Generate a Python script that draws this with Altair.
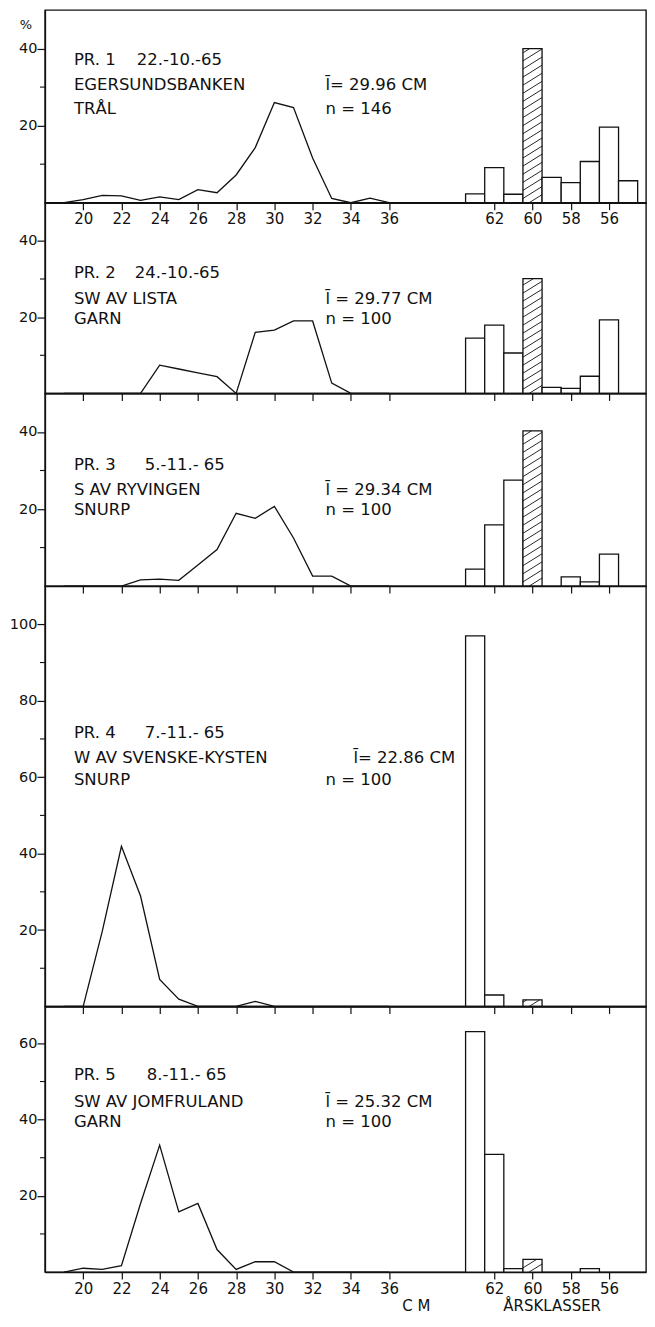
import altair as alt
import pandas as pd

# ---------------- data ----------------
CM = [19, 20, 21, 22, 23, 24, 25, 26, 27, 28, 29, 30, 31, 32, 33, 34, 35, 36]

PCT_1 = [0, 0.8, 1.9, 1.8, 0.6, 1.5, 0.8, 3.4, 2.6, 7.2, 14.3, 26.0, 24.7, 11.6, 1.1, 0, 1.2, 0]
PCT_2 = [0, 0, 0, 0, 0, 7.4, 6.4, 5.4, 4.4, 0, 16.0, 16.6, 19.0, 19.0, 2.7, 0, 0, 0]
PCT_3 = [0, 0, 0, 0, 1.6, 1.8, 1.5, 5.5, 9.5, 18.9, 17.6, 20.7, 12.5, 2.6, 2.6, 0, 0, 0]
PCT_4 = [0, 0, 19.7, 41.9, 28.9, 7.1, 1.9, 0, 0, 0, 1.3, 0, 0, 0, 0, 0, 0, 0]
PCT_5 = [0, 1.0, 0.7, 1.7, 18.0, 33.3, 15.8, 18.0, 5.9, 0.7, 2.7, 2.7, 0, 0, 0, 0, 0, 0]

YEARS = [63, 62, 61, 60, 59, 58, 57, 56, 55]
YC_1 = [2.3, 9.1, 2.2, 40.0, 6.6, 5.2, 10.7, 19.6, 5.7]
YC_2 = [14.5, 17.9, 10.6, 30.1, 1.6, 1.3, 4.5, 19.3, 0]
YC_3 = [4.4, 15.9, 27.5, 40.3, 0, 2.4, 1.1, 8.3, 0]
YC_4 = [97.0, 3.0, 0, 1.7, 0, 0, 0, 0, 0]
YC_5 = [63.1, 30.9, 0.9, 3.3, 0, 0, 0.9, 0, 0]
HATCHED_YEAR = 60

CM_TICKS = [20, 22, 24, 26, 28, 30, 32, 34, 36]
YEAR_TICKS = [62, 60, 58, 56]

PR_LABEL = ["PR. 1", "PR. 2", "PR. 3", "PR. 4", "PR. 5"]
DATES = ["22.-10.-65", "24.-10.-65", "5.-11.- 65", "7.-11.- 65", "8.-11.- 65"]
PLACES = ["EGERSUNDSBANKEN", "SW AV LISTA", "S AV RYVINGEN", "W AV SVENSKE-KYSTEN", "SW AV JOMFRULAND"]
GEAR = ["TRÅL", "GARN", "SNURP", "SNURP", "GARN"]
MEAN_LEN = ["l\u0304= 29.96 CM", "l\u0304 = 29.77 CM", "l\u0304 = 29.34 CM", "l\u0304= 22.86 CM", "l\u0304 = 25.32 CM"]
N_FISH = ["n = 146", "n = 100", "n = 100", "n = 100", "n = 100"]

# ---------------- layout ----------------
Y_TOP = [50, 50, 50, 110, 69.7]
Y_MAJOR = [[20, 40], [20, 40], [20, 40], [20, 40, 60, 80, 100], [20, 40, 60]]
Y_MINOR = [[10, 30], [10, 30], [10, 30], [10, 30, 50, 70, 90], [10, 30, 50]]
HEIGHTS = [193, 191, 193, 421, 266]
WIDTH = 602
PX_PER_CM = 19.15
X_DOMAIN = [18, 18 + WIDTH / PX_PER_CM]
TEXT_Y = [[50, 75, 99], [70, 96, 116], [72, 97, 117], [147, 172, 194], [69, 96, 116]]
DATE_X = [92, 90, 100, 100, 102]
MEAN_X = [281, 281, 281, 309, 281]

FONT = "DejaVu Sans"
INK = "#111111"


def hatch_rows(years, vals, spacing=2.1, rise=3.1):
    rows = []
    for yr, v in zip(years, vals):
        if yr != HATCHED_YEAR or v <= 0:
            continue
        k = 0
        while True:
            y0 = -rise + k * spacing
            if y0 >= v:
                break
            t1 = max(0.0, (0 - y0) / rise)
            t2 = min(1.0, (v - y0) / rise)
            if t2 > t1:
                rows.append({"year": yr, "t1": t1, "t2": t2,
                             "h1": y0 + rise * t1, "h2": y0 + rise * t2})
            k += 1
    return pd.DataFrame(rows)


def text_layer(label, px, py, size=16.5, align="left"):
    return alt.Chart(pd.DataFrame({"label": [label]})).mark_text(
        align=align, baseline="middle", font=FONT, fontSize=size, color=INK
    ).encode(x=alt.value(px), y=alt.value(py), text="label:N")


def panel(i, pct, yc):
    xs = alt.Scale(domain=X_DOMAIN, nice=False, zero=False)
    ys = alt.Scale(domain=[0, Y_TOP[i]], nice=False, zero=True)
    show = i in (0, 4)
    xaxis = alt.Axis(
        values=CM_TICKS + [103.5 - y for y in YEAR_TICKS],
        labelExpr="datum.value > 38 ? format(103.5 - datum.value, 'd') : format(datum.value, 'd')",
        labels=show, title=None, grid=False, tickSize=7, labelPadding=2,
        labelOverlap=False, labelFlush=False,
    )
    yaxis = alt.Axis(values=Y_MAJOR[i], title=None, grid=False, tickSize=8,
                     labelPadding=0, labelOverlap=False, labelFlush=False,
                     labelFontSize=14.5)

    line_df = pd.DataFrame({"cm": CM, "pct": pct})
    line = alt.Chart(line_df).mark_line(color=INK, strokeWidth=1.3).encode(
        x=alt.X("cm:Q", scale=xs, axis=xaxis),
        y=alt.Y("pct:Q", scale=ys, axis=yaxis),
    )

    bar_df = pd.DataFrame({"year": YEARS, "pct": yc})
    bar_df = bar_df[bar_df["pct"] > 0]
    bars = alt.Chart(bar_df).transform_calculate(
        xl="40 + (63 - datum.year)", xr="41 + (63 - datum.year)", base="0"
    ).mark_rect(fill="white", stroke=INK, strokeWidth=1.3).encode(
        x=alt.X("xl:Q", scale=xs), x2="xr:Q",
        y=alt.Y("pct:Q", scale=ys), y2="base:Q",
    )

    layers = [bars, line]

    hdf = hatch_rows(YEARS, yc)
    if len(hdf):
        hatch = alt.Chart(hdf).transform_calculate(
            hx1="40 + (63 - datum.year) + datum.t1",
            hx2="40 + (63 - datum.year) + datum.t2",
        ).mark_rule(color=INK, strokeWidth=0.9).encode(
            x=alt.X("hx1:Q", scale=xs), x2="hx2:Q",
            y=alt.Y("h1:Q", scale=ys), y2="h2:Q",
        )
        layers.append(hatch)

    minor = alt.Chart(pd.DataFrame({"v": Y_MINOR[i]})).mark_rule(
        color=INK, strokeWidth=1.1
    ).encode(y=alt.Y("v:Q", scale=ys), x=alt.value(-5), x2=alt.value(0))
    layers.append(minor)

    ty = TEXT_Y[i]
    layers += [
        text_layer(PR_LABEL[i], 29, ty[0]),
        text_layer(DATES[i], DATE_X[i], ty[0]),
        text_layer(PLACES[i], 29, ty[1]),
        text_layer(GEAR[i], 29, ty[2]),
        text_layer(MEAN_LEN[i], MEAN_X[i], ty[1]),
        text_layer(N_FISH[i], 281, ty[2]),
    ]
    if i == 0:
        layers.append(text_layer("%", -19, 15, size=13, align="center"))
    if i == 4:
        layers.append(text_layer("C M", 372, 34 + HEIGHTS[4], size=15, align="center"))
        layers.append(text_layer("ÅRSKLASSER", 508, 34 + HEIGHTS[4], size=15, align="center"))

    return alt.layer(*layers).properties(width=WIDTH, height=HEIGHTS[i])


panels = [panel(i, p, y) for i, (p, y) in enumerate(
    [(PCT_1, YC_1), (PCT_2, YC_2), (PCT_3, YC_3), (PCT_4, YC_4), (PCT_5, YC_5)])]

chart = alt.vconcat(*panels, spacing=0, bounds="flush").properties(
    padding={"left": 0, "top": 0, "right": 0, "bottom": 0}
).configure_view(
    stroke=INK, strokeWidth=1.4
).configure_axis(
    labelFont=FONT, labelFontSize=15, labelColor=INK,
    domainColor=INK, domainWidth=1.4, tickColor=INK, tickWidth=1.2,
)

chart.save("out.html", embed_options={"renderer": "svg", "actions": False})
